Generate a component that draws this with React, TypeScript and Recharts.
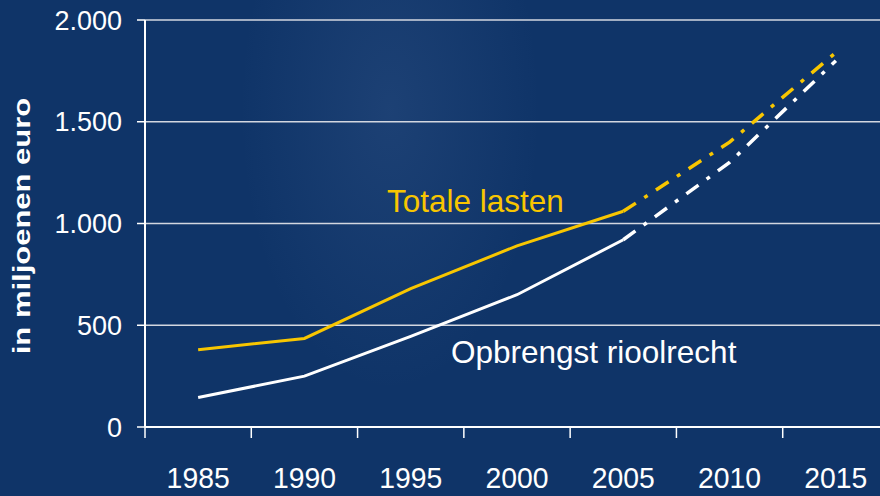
import { LineChart, Line, XAxis, YAxis, CartesianGrid } from "recharts";

// jaren en bedragen (miljoen euro)
const years = ["1985", "1990", "1995", "2000", "2005", "2010", "2015"];
const totaleLasten = [380, 435, 680, 890, 1060, 1400, 1840];
const opbrengstRioolrecht = [145, 250, 445, 650, 920, 1300, 1800];
const yTicks = [0, 500, 1000, 1500, 2000];
const lastRealised = "2005"; // daarna: prognose (gestreept)

const cut = years.indexOf(lastRealised);

const data = years.map((year, i) => ({
  year,
  lasten: i <= cut ? totaleLasten[i] : null,
  lastenPrognose: i >= cut ? totaleLasten[i] : null,
  opbrengst: i <= cut ? opbrengstRioolrecht[i] : null,
  opbrengstPrognose: i >= cut ? opbrengstRioolrecht[i] : null,
}));

const BG = "#0f3468";
const YELLOW = "#f8c600";
const WHITE = "#ffffff";
const FONT = "'Liberation Sans', Arial, sans-serif";

const fmt = (v: number) =>
  String(v).replace(/\B(?=(\d{3})+(?!\d))/g, ".");

function YearTick(props: any) {
  const { x, y, payload } = props;
  const off = payload?.offset ?? 0;
  return (
    <g>
      <line x1={x - off} x2={x - off} y1={y} y2={y + 11} stroke={WHITE} strokeWidth={1.5} />
      <text
        transform={`translate(${x},${y + 61}) scale(0.945,1)`}
        textAnchor="middle"
        fill={WHITE}
        fontSize={30}
        fontFamily={FONT}
      >
        {payload.value}
      </text>
    </g>
  );
}

export default function App() {
  return (
    <div
      style={{
        position: "absolute",
        left: 0,
        top: 0,
        width: 880,
        height: 496,
        overflow: "hidden",
        background: `radial-gradient(ellipse 150px 280px at 390px 110px, rgba(120,150,200,0.13), rgba(0,0,0,0)), ${BG}`,
      }}
    >
      <LineChart
        width={900}
        height={496}
        data={data}
        margin={{ top: 20, right: 11, bottom: 0, left: 0 }}
      >
        <CartesianGrid
          vertical={false}
          stroke="#d3d7e0"
          strokeWidth={1.5}
        />
        <XAxis
          dataKey="year"
          scale="band"
          height={69}
          tickSize={0}
          tickMargin={0}
          interval={0}
          axisLine={{ stroke: WHITE, strokeWidth: 2 }}
          tick={<YearTick />}
        />
        <YAxis
          width={145}
          domain={[0, 2000]}
          ticks={yTicks}
          tickFormatter={fmt}
          tickSize={8}
          tickMargin={15}
          axisLine={{ stroke: WHITE, strokeWidth: 2 }}
          tickLine={{ stroke: WHITE, strokeWidth: 1.5 }}
          tick={{ fill: WHITE, fontSize: 27, fontFamily: FONT }}
        />
        <Line
          dataKey="lasten"
          type="linear"
          stroke={YELLOW}
          strokeWidth={3}
          dot={false}
          isAnimationActive={false}
        />
        <Line
          dataKey="lastenPrognose"
          type="linear"
          stroke={YELLOW}
          strokeWidth={3.5}
          strokeDasharray="15 10 4 10"
          dot={false}
          isAnimationActive={false}
        />
        <Line
          dataKey="opbrengst"
          type="linear"
          stroke={WHITE}
          strokeWidth={3}
          dot={false}
          isAnimationActive={false}
        />
        <Line
          dataKey="opbrengstPrognose"
          type="linear"
          stroke={WHITE}
          strokeWidth={3.5}
          strokeDasharray="15 10 4 10"
          dot={false}
          isAnimationActive={false}
        />
      </LineChart>

      <svg
        width={880}
        height={496}
        style={{ position: "absolute", left: 0, top: 0, pointerEvents: "none" }}
      >
        <text
          transform="translate(22,226) rotate(-90) scale(1,0.78)"
          textAnchor="middle"
          dominantBaseline="central"
          fill={WHITE}
          fontSize={31}
          fontWeight="bold"
          fontFamily={FONT}
        >
          in miljoenen euro
        </text>
        <text x={387} y={212} fill={YELLOW} fontSize={31.5} fontFamily={FONT}>
          Totale lasten
        </text>
        <text x={451} y={363} fill={WHITE} fontSize={31.5} fontFamily={FONT}>
          Opbrengst rioolrecht
        </text>
      </svg>
    </div>
  );
}
